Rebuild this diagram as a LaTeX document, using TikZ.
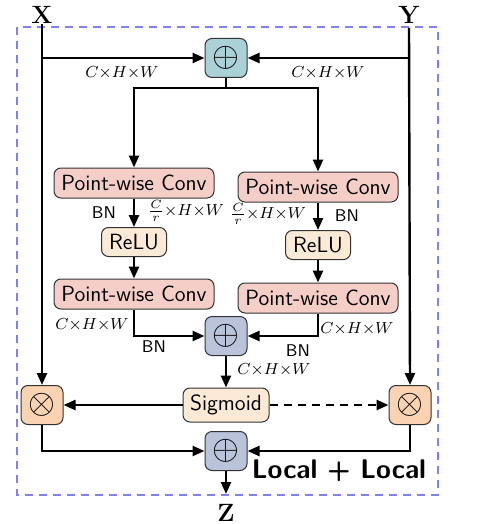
\documentclass[tikz,border=0pt]{standalone}
\usetikzlibrary{arrows.meta}
\definecolor{pwc}{HTML}{F6CEC8}
\definecolor{reluc}{HTML}{FDEAD6}
\definecolor{otc}{HTML}{F9D3B2}
\definecolor{opt}{HTML}{AAD1D6}
\definecolor{opm}{HTML}{B9C3DA}
\definecolor{bord}{HTML}{8080F0}
\begin{document}
\begin{tikzpicture}[x=0.5pt,y=-0.5pt,
  box/.style={draw=black!80,line width=0.5pt,rounded corners=3.5pt,inner sep=0pt,font=\sffamily\fontsize{11}{12}\selectfont},
  pw/.style={box,fill=pwc,minimum width=80pt,minimum height=15pt},
  act/.style={box,fill=reluc,minimum height=14.5pt},
  opbox/.style={box,minimum width=21pt,minimum height=19.5pt,font=\fontsize{16}{16}\selectfont},
  arr/.style={line width=1.2pt,-{Triangle[length=6pt,width=5pt]}},
  dimlab/.style={font=\fontsize{8.5}{10}\selectfont,inner sep=1pt},
  bnlab/.style={font=\fontsize{8.5}{10}\selectfont\sffamily,inner sep=1pt},
  io/.style={font=\bfseries\fontsize{12.5}{14}\selectfont,inner sep=0pt}]
\useasboundingbox (0,0) rectangle (488,524);
\draw[bord,dashed,line width=0.6pt,dash pattern=on 4pt off 3pt] (17,27) rectangle (438,495);
\node[io] (X) at (42,15) {X};
\node[io] (Y) at (409,15) {Y};
\node[opbox,fill=opt] (opT) at (226,58) {$\oplus$};
\node[pw] (pw1L) at (134,183) {Point-wise Conv};
\node[pw] (pw1R) at (318,187) {Point-wise Conv};
\node[act,minimum width=32.5pt] (reluL) at (134,242) {ReLU};
\node[act,minimum width=32.5pt] (reluR) at (318,245) {ReLU};
\node[pw] (pw2L) at (134,294) {Point-wise Conv};
\node[pw] (pw2R) at (318,298) {Point-wise Conv};
\node[opbox,fill=opm] (opM) at (226,336) {$\oplus$};
\node[act,minimum width=43pt,minimum height=17pt] (sig) at (226,405) {Sigmoid};
\node[opbox,fill=otc] (otL) at (42,405) {$\otimes$};
\node[opbox,fill=otc] (otR) at (410,405) {$\otimes$};
\node[opbox,fill=opm] (opB) at (226,451) {$\oplus$};
\node[io] (Z) at (226,513) {Z};
\coordinate (Zend) at (226,494);
\node[font=\sffamily\bfseries\fontsize{13.5}{15}\selectfont,inner sep=0pt] (ll) at (339,471) {Local + Local};
% labels
\node[dimlab] (d1) at (122,73) {$C{\times}H{\times}W$};
\node[dimlab] (d2) at (328,73) {$C{\times}H{\times}W$};
\node[bnlab] (b1) at (104,213) {BN};
\node[dimlab] (d3) at (186,211) {$\frac{C}{r}{\times}H{\times}W$};
\node[dimlab] (d4) at (268,214) {$\frac{C}{r}{\times}H{\times}W$};
\node[bnlab] (b2) at (347,216) {BN};
\node[dimlab] (d5) at (92,325) {$C{\times}H{\times}W$};
\node[bnlab] (b3) at (154,347) {BN};
\node[dimlab] (d6) at (357,329) {$C{\times}H{\times}W$};
\node[bnlab] (b4) at (298,351) {BN};
\node[dimlab] (d7) at (274,370) {$C{\times}H{\times}W$};
% connectors
\draw[arr] (X.south) -- (otL.north);
\draw[arr] (Y.south) ++(0,4) -- (otR.north);
\draw[arr] (X |- opT) -- (opT.west);
\draw[arr] (Y |- opT) -- (opT.east);
\draw[arr] (opT.south) -- ++(0,10) -| (pw1L.north);
\draw[arr] (opT.south) -- ++(0,10) -| (pw1R.north);
\draw[arr] (pw1L) -- (reluL);
\draw[arr] (pw1R) -- (reluR);
\draw[arr] (reluL) -- (pw2L);
\draw[arr] (reluR) -- (pw2R);
\draw[arr] (pw2L.south) |- (opM.west);
\draw[arr] (pw2R.south) |- (opM.east);
\draw[arr] (opM) -- (sig);
\draw[arr] (sig) -- (otL);
\draw[arr,dashed,dash pattern=on 4pt off 3pt] (sig) -- (otR);
\draw[arr] (otL.south) |- (opB.west);
\draw[arr] (otR.south) |- (opB.east);
\draw[arr] (opB) -- (Zend);
\end{tikzpicture}
\end{document}
